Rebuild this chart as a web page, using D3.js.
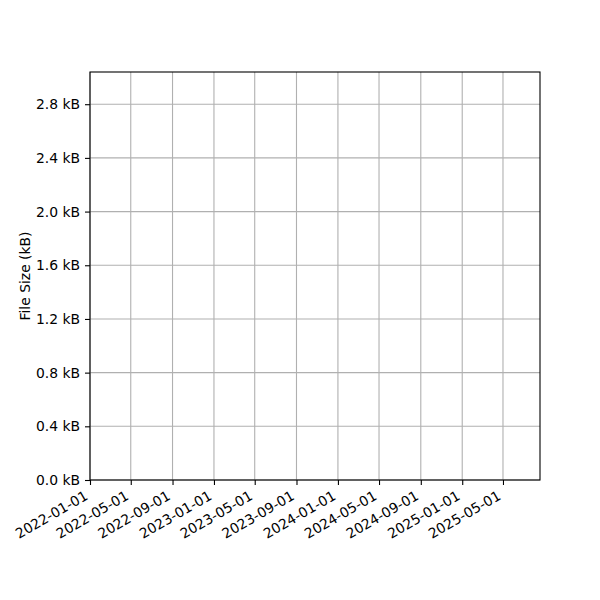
<!DOCTYPE html>
<html>
<head>
<meta charset="utf-8">
<script src="https://cdn.jsdelivr.net/npm/d3@7"></script>
<style>
  body { margin: 0; background: #fff; }
  text { font-family: "DejaVu Sans", sans-serif; }
</style>
</head>
<body>
<div id="chart"></div>
<script>
// chart data (the reference has no plotted points, only axes)
var dates = [];
var sizes = [];
var dateDomain = ["2022-01-01", "2025-08-18"];
var sizeDomain = [0, 3.04];
var dateTicks = ["2022-01-01","2022-05-01","2022-09-01","2023-01-01","2023-05-01","2023-09-01",
                 "2024-01-01","2024-05-01","2024-09-01","2025-01-01","2025-05-01"];
var sizeTicks = [0, 0.4, 0.8, 1.2, 1.6, 2.0, 2.4, 2.8];
var yLabel = "File Size (kB)";

var width = 600, height = 600,
    margin = {top: 72, right: 60, bottom: 120, left: 90};
var parse = d3.utcParse("%Y-%m-%d");

var svg = d3.select("#chart").append("svg")
    .attr("width", width)
    .attr("height", height);

var x = d3.scaleUtc()
    .domain(dateDomain.map(parse))
    .range([margin.left, width - margin.right]);
var y = d3.scaleLinear()
    .domain(sizeDomain)
    .range([height - margin.bottom, margin.top]);

// grid lines
svg.append("g")
    .selectAll("line")
    .data(dateTicks.map(parse))
    .enter().append("line")
    .attr("x1", function(d) { return x(d); })
    .attr("x2", function(d) { return x(d); })
    .attr("y1", y.range()[0])
    .attr("y2", y.range()[1])
    .attr("stroke", "#b0b0b0")
    .attr("stroke-width", 1.1);
svg.append("g")
    .selectAll("line")
    .data(sizeTicks)
    .enter().append("line")
    .attr("x1", x.range()[0])
    .attr("x2", x.range()[1])
    .attr("y1", function(d) { return y(d); })
    .attr("y2", function(d) { return y(d); })
    .attr("stroke", "#b0b0b0")
    .attr("stroke-width", 1.1);

// series (empty)
svg.append("path")
    .datum(dates.map(function(d, i) { return [parse(d), sizes[i]]; }))
    .attr("fill", "none")
    .attr("stroke", "#1f77b4")
    .attr("d", d3.line().x(function(d) { return x(d[0]); }).y(function(d) { return y(d[1]); }));

// x axis
var xAxis = svg.append("g")
    .attr("transform", "translate(0," + y.range()[0] + ")")
    .call(d3.axisBottom(x)
        .tickValues(dateTicks.map(parse))
        .tickFormat(d3.utcFormat("%Y-%m-%d"))
        .tickSize(5).tickPadding(4));
xAxis.select(".domain").remove();
// labels rotated 30deg, right end hanging off the tick like matplotlib
xAxis.selectAll("text")
    .attr("font-size", 13.9)
    .attr("fill", "#000")
    .attr("text-anchor", "end")
    .attr("x", 0)
    .attr("y", 0)
    .attr("dy", null)
    .attr("transform", "translate(-1.6,18.6) rotate(-30)");
xAxis.selectAll("line").attr("stroke", "#000").attr("stroke-width", 1.1);

// y axis
var yAxis = svg.append("g")
    .attr("transform", "translate(" + x.range()[0] + ",0)")
    .call(d3.axisLeft(y)
        .tickValues(sizeTicks)
        .tickFormat(function(d) { return d3.format(".1f")(d) + " kB"; })
        .tickSize(5).tickPadding(5));
yAxis.select(".domain").remove();
yAxis.selectAll("text").attr("font-size", 13.9).attr("fill", "#000");
yAxis.selectAll("line").attr("stroke", "#000").attr("stroke-width", 1.1);

// frame
svg.append("rect")
    .attr("x", x.range()[0])
    .attr("y", y.range()[1])
    .attr("width", x.range()[1] - x.range()[0])
    .attr("height", y.range()[0] - y.range()[1])
    .attr("fill", "none")
    .attr("stroke", "#000")
    .attr("stroke-width", 1.1);

svg.append("text")
    .attr("transform", "translate(30," + ((y.range()[0] + y.range()[1]) / 2) + ") rotate(-90)")
    .attr("text-anchor", "middle")
    .attr("font-size", 13.9)
    .text(yLabel);
</script>
</body>
</html>
